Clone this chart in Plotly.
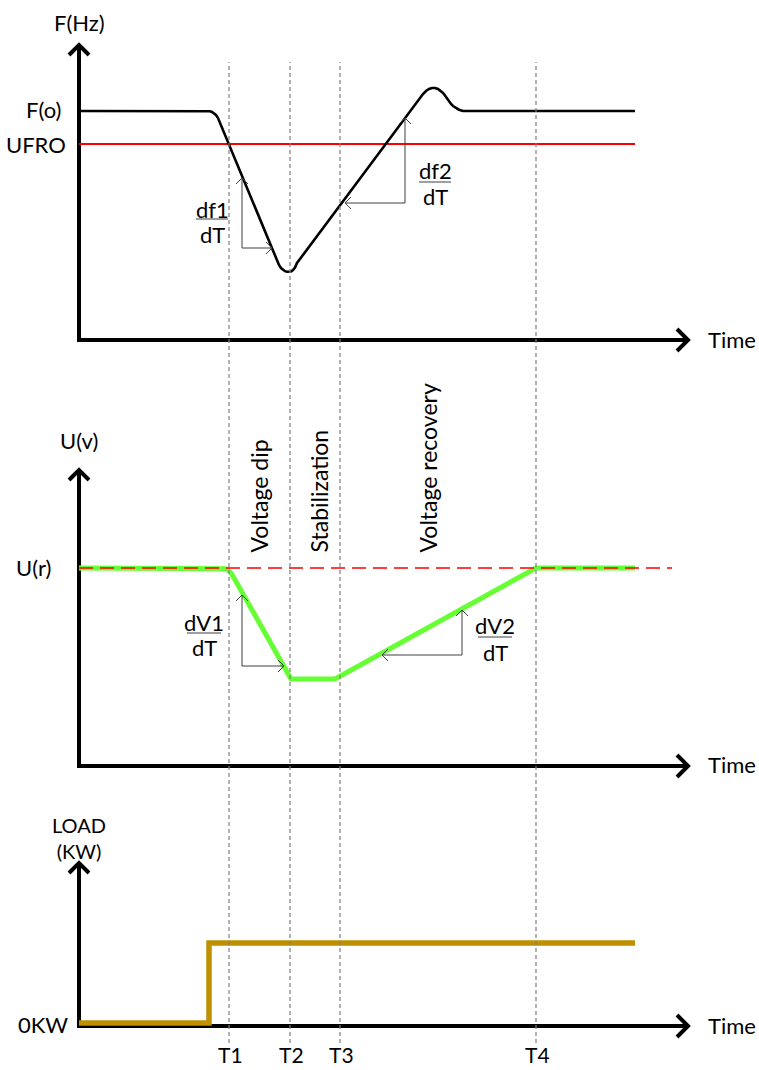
import plotly.graph_objects as go

# ---------------- data (time axis: 0 = vertical axis) ----------------
event_labels = ["T1", "T2", "T3", "T4"]
event_times = [150, 211, 261, 457]

# Frequency panel
freq_t = [0, 129, 131, 133, 135, 137, 139, 198, 200, 202, 204, 206, 208, 210,
          212, 214, 216, 218, 335, 338, 341, 344, 347, 350, 353, 356, 359, 362,
          364, 366, 368, 370, 372, 374, 377, 380, 384, 556]
freq_f = [229, 229, 228.7, 228, 226.8, 225, 222, 79, 75, 72, 70, 68.8, 68.2, 68,
          68.5, 70, 72.5, 77, 234, 238.5, 242.5, 246, 249, 251, 252, 252, 251, 249,
          247, 244.5, 241.5, 238.5, 236, 234, 232, 230.3, 229, 229]
f_nominal = 229      # F(o)
f_ufro = 196         # UFRO
ufro_t = [0, 556]

# Voltage panel
volt_t = [0, 143, 146, 149, 152, 155, 212, 256, 457, 556]
volt_v = [198, 198, 197.3, 195.8, 193, 188, 87, 87, 198, 198]
u_rated = 198        # U(r)
ur_t = [0, 593]

# Load panel
load_t = [0, 130, 130, 556]
load_kw = [3, 3, 83, 83]

# axis extents
axis_end_t = 609
top_tip, mid_tip, bot_tip = 295, 296, 163

# slope markers: (vertical x, y_low, y_high, horizontal end x)
df1 = (163, 92, 162, 193)
df2 = (326, 137, 222, 266)
dv1 = (163, 100, 171, 205)
dv2 = (383, 111, 156, 303)

# ---------------- layout helpers ----------------
W, H = 759, 1070
X_AXIS_PX = 79


def panel(base_py, top_py, bot_py):
    return dict(domain=[1 - bot_py / H, 1 - top_py / H],
                range=[base_py - bot_py, base_py - top_py])


P1 = panel(340, 0, 360)
P2 = panel(766, 365, 785)
P3 = panel(1026, 790, 1070)

fig = go.Figure()


def line(x, y, ax, color, width, dash=None):
    fig.add_trace(go.Scatter(x=x, y=y, yaxis=ax, mode="lines",
                             line=dict(color=color, width=width, dash=dash),
                             hoverinfo="skip", showlegend=False))


def axes(ax, tip):
    line([0, 0, axis_end_t], [tip, 0, 0], ax, "black", 4)
    a = 10
    line([-a, 0, a], [tip - a, tip, tip - a], ax, "black", 4)
    b = 11
    line([axis_end_t - b, axis_end_t, axis_end_t - b], [b, 0, -b], ax, "black", 4)


def slope(ax, m, hdir):
    vx, ylo, yhi, hx = m
    c = "#404040"
    line([vx, vx, hx], [yhi, ylo, ylo], ax, c, 1)
    s = 6
    line([vx - s, vx, vx + s], [yhi - s, yhi, yhi - s], ax, c, 1)
    line([hx - hdir * s, hx, hx - hdir * s], [ylo + s, ylo, ylo - s], ax, c, 1)


# top panel
axes("y", top_tip)
line(ufro_t, [f_ufro, f_ufro], "y", "#ff0000", 2.2)
line(freq_t, freq_f, "y", "black", 2.6)
slope("y", df1, 1)
slope("y", df2, -1)

# middle panel
axes("y2", mid_tip)
line(volt_t, volt_v, "y2", "#66ff33", 5)
line(ur_t, [u_rated, u_rated], "y2", "#ff0000", 1.6, dash="14px,7px")
slope("y2", dv1, 1)
slope("y2", dv2, -1)

# bottom panel
axes("y3", bot_tip)
line(load_t, load_kw, "y3", "#bf9000", 5.5)

# dashed event lines
shapes = []
for t in event_times:
    shapes.append(dict(type="line", xref="x", yref="paper", x0=t, x1=t,
                       y0=1 - 1043 / H, y1=1 - 62 / H,
                       line=dict(color="#7f7f7f", width=1.2, dash="4px,3px")))

FAMILY = "Lato, Carlito, sans-serif"
ann = []


def text(x, y, s, yref, xanchor="center", angle=0, yanchor="middle", size=22):
    ann.append(dict(x=x, y=y, xref="x", yref=yref, text=s, showarrow=False,
                    xanchor=xanchor, yanchor=yanchor, textangle=angle,
                    font=dict(family=FAMILY, size=size, color="black")))


def frac(xc, y_top, y_bar, y_bot, num, den, yref, half=16):
    text(xc, y_top, num, yref)
    text(xc, y_bot, den, yref)
    shapes.append(dict(type="line", xref="x", yref=yref, x0=xc - half, x1=xc + half,
                       y0=y_bar, y1=y_bar, line=dict(color="#7f7f7f", width=1.5)))


# top panel texts (values relative to baseline)
text(0, 318, "F(Hz)", "y")
text(-16, f_nominal + 2, "F(o)", "y", xanchor="right")
text(-11, f_ufro, "UFRO", "y", xanchor="right")
text(627, 1, "Time", "y", xanchor="left")
frac(133, 131, 121, 106, "df1", "dT", "y")
frac(356, 170, 158, 144, "df2", "dT", "y")

# middle panel texts
text(0, 326, "U(v)", "y2")
text(-26, u_rated + 1, "U(r)", "y2", xanchor="right")
text(627, 2, "Time", "y2", xanchor="left")
text(179, 211, "Voltage dip", "y2", angle=-90, yanchor="bottom", size=23)
text(239, 211, "Stabilization", "y2", angle=-90, yanchor="bottom", size=23)
text(348, 211, "Voltage recovery", "y2", angle=-90, yanchor="bottom", size=23)
frac(125, 144, 133, 119, "dV1", "dT", "y2", half=17)
frac(416, 141, 129, 114, "dV2", "dT", "y2", half=17)

# bottom panel texts
text(0, 188, "LOAD<br>(KW)", "y3", size=20)
text(-9, 2, "0KW", "y3", xanchor="right")
text(627, 1, "Time", "y3", xanchor="left")
for t, lab in zip(event_times, event_labels):
    text(t + 1, -43, lab, "y3", yanchor="bottom", size=21)

hidden = dict(visible=False, showgrid=False, zeroline=False, fixedrange=True)
fig.update_layout(
    width=W, height=H, margin=dict(l=0, r=0, t=0, b=0),
    paper_bgcolor="white", plot_bgcolor="white", showlegend=False,
    xaxis=dict(domain=[0, 1], range=[-X_AXIS_PX, W - X_AXIS_PX], anchor="y", **hidden),
    yaxis=dict(anchor="x", **P1, **hidden),
    yaxis2=dict(anchor="x", **P2, **hidden),
    yaxis3=dict(anchor="x", **P3, **hidden),
    shapes=shapes, annotations=ann,
)

fig.write_html("out.html", config={"displayModeBar": False},
               post_script="document.body.style.margin='0';document.body.style.overflow='hidden';")
